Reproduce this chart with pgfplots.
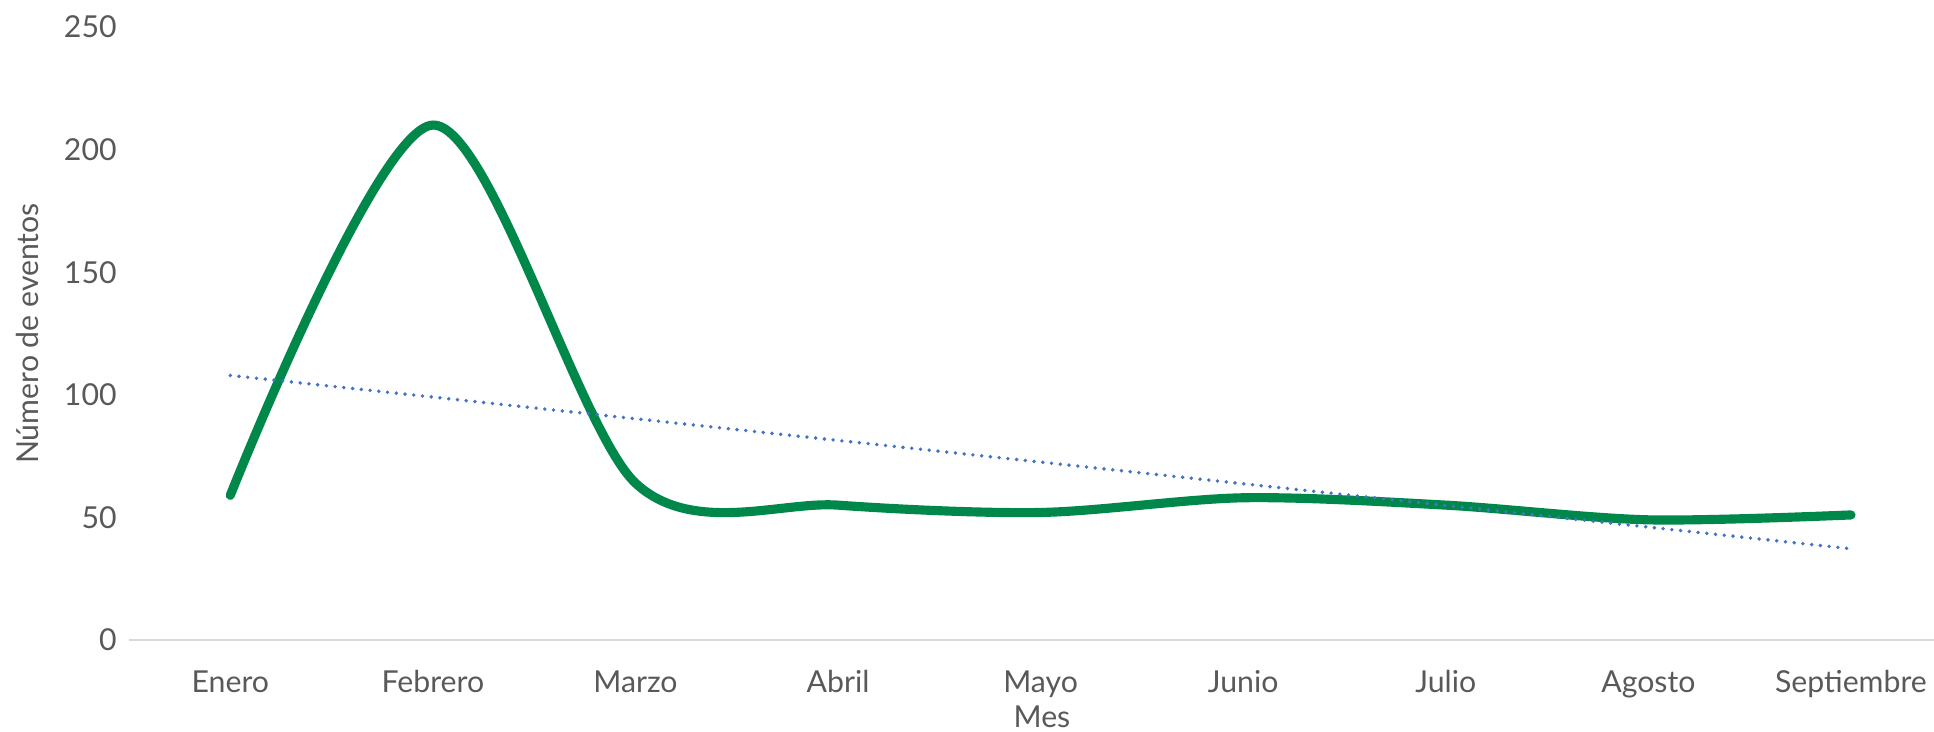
\documentclass[border=0pt]{standalone}
\usepackage{pgfplots}
\pgfplotsset{compat=1.18}
\usepackage{fontspec}
\setmainfont{Lato}
\definecolor{lgreen}{HTML}{00884A}
\definecolor{tblue}{HTML}{4472C4}
\definecolor{tgrey}{HTML}{595959}
\definecolor{agrey}{HTML}{D9D9D9}
\begin{document}
\begin{tikzpicture}
\begin{axis}[
  scale only axis,
  width=180.5mm, height=61.3mm,
  xmin=-0.5, xmax=8.41,
  ymin=0, ymax=250,
  ytick={0,50,...,250},
  xtick={0,...,8},
  xticklabels={Enero,Febrero,Marzo,Abril,Mayo,Junio,Julio,Agosto,Septiembre},
  axis y line*=left,
  axis x line*=bottom,
  y axis line style={draw=none},
  x axis line style={agrey, line width=0.8pt, -},
  major tick length=0pt,
  ytick style={draw=none},
  xtick style={draw=none},
  /pgf/number format/assume math mode=true,
  font=\fontsize{8.6pt}{10pt}\selectfont,
  ticklabel style={text=tgrey, font=\fontsize{8.6pt}{10pt}\selectfont},
  xticklabel style={yshift=-1.8mm},
  label style={text=tgrey, font=\fontsize{8.6pt}{10pt}\selectfont},
  xlabel={Mes},
  ylabel={Número de eventos},
  xlabel style={at={(axis description cs:0.5058,0)}, anchor=center, yshift=-7.7mm},
  ylabel style={at={(axis description cs:-0.0560,0.5)}, anchor=center},
  clip=false,
]
\addplot[lgreen, line width=2.6pt, smooth, tension=0.5, line cap=round] coordinates {
  (0,59) (1,210) (2,64) (3,55) (4,52) (5,58) (6,55) (7,49) (8,51)
};
\addplot[tblue, line width=1.1pt, dotted, line cap=round, dash pattern=on 0pt off 2.5pt] coordinates {
  (0,107.9) (8,37.2)
};
\end{axis}
\pgfresetboundingbox
\path[use as bounding box] (current axis.south west) ++(-12.9mm,-9.2mm) rectangle ([yshift=2.7mm]current axis.north east);
\end{tikzpicture}
\end{document}
